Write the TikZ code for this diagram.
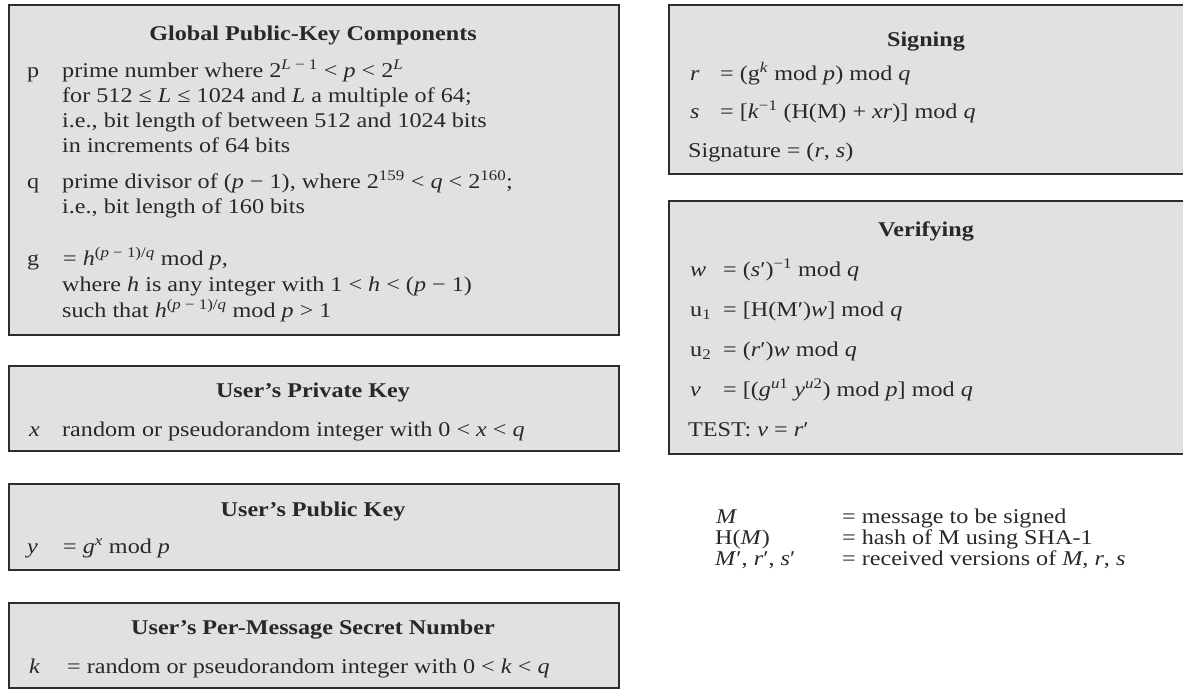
\documentclass[tikz,border=0pt]{standalone}
\usepackage{fontspec}
\setmainfont{Liberation Serif}[FakeStretch=1.15]
\definecolor{boxfill}{RGB}{225,225,228}
\definecolor{boxline}{RGB}{45,45,45}
\definecolor{txtcol}{RGB}{40,40,40}
\newcommand{\iv}[1]{\textit{#1}}
\newcommand{\supx}[1]{\textsuperscript{#1}}
\newcommand{\subx}[1]{\textsubscript{#1}}
\begin{document}
\begin{tikzpicture}[x=1pt,y=-1pt,
  box/.style={draw=boxline, line width=2.4pt, fill=boxfill, inner sep=0pt, anchor=north west},
  txt/.style={anchor=base west, inner sep=0pt, font=\fontsize{21}{25}\selectfont, text=txtcol},
  ttl/.style={anchor=base, inner sep=0pt, font=\fontsize{21}{25}\selectfont\bfseries, text=txtcol}]
\useasboundingbox (0,0) rectangle (1183,689);
\clip (0,0) rectangle (1183,689);
\fill[white] (0,0) rectangle (1183,689);

% boxes
\node[box, minimum width=610pt, minimum height=330pt] (glob) at (8,4) {};
\node[box, minimum width=610pt, minimum height=85pt] (priv) at (8,365) {};
\node[box, minimum width=610pt, minimum height=86pt] (pub) at (8,483) {};
\node[box, minimum width=610pt, minimum height=85pt] (per) at (8,602) {};
\node[box, minimum width=524pt, minimum height=169pt] (sign) at (668,4) {};
\node[box, minimum width=524pt, minimum height=253pt] (ver) at (668,200) {};

% Global
\node[ttl] (globt) at (313,40) {Global Public-Key Components};
\node[txt] (gpl) at (27,77) {p};
\node[txt] (gp1) at (62,77) {prime number where 2\supx{\iv{L} − 1} < \iv{p} < 2\supx{\iv{L}}};
\node[txt] (gp2) at (62,102) {for 512 ≤ \iv{L} ≤ 1024 and \iv{L} a multiple of 64;};
\node[txt] (gp3) at (62,127) {i.e., bit length of between 512 and 1024 bits};
\node[txt] (gp4) at (62,152) {in increments of 64 bits};
\node[txt] (gql) at (27,188) {q};
\node[txt] (gq1) at (62,188) {prime divisor of (\iv{p} − 1), where 2\supx{159} < \iv{q} < 2\supx{160};};
\node[txt] (gq2) at (62,213) {i.e., bit length of 160 bits};
\node[txt] (ggl) at (27,265) {g};
\node[txt] (gg1) at (63,265) {= \iv{h}\supx{(\iv{p} − 1)/\iv{q}} mod \iv{p},};
\node[txt] (gg2) at (62,291) {where \iv{h} is any integer with 1 < \iv{h} < (\iv{p} − 1)};
\node[txt] (gg3) at (62,317) {such that \iv{h}\supx{(\iv{p} − 1)/\iv{q}} mod \iv{p} > 1};

% Private
\node[ttl] (privt) at (313,397) {User’s Private Key};
\node[txt] (privl) at (29,436) {\iv{x}};
\node[txt] (priv1) at (62,436) {random or pseudorandom integer with 0 < \iv{x} < \iv{q}};

% Public
\node[ttl] (pubt) at (313,516) {User’s Public Key};
\node[txt] (publ) at (27,553) {\iv{y}};
\node[txt] (pub1) at (63,553) {= \iv{g}\supx{\iv{x}} mod \iv{p}};

% Per-message
\node[ttl] (pert) at (313,634) {User's Per-Message Secret Number};
\node[txt] (perl) at (29,673) {\iv{k}};
\node[txt] (per1) at (67,673) {= random or pseudorandom integer with 0 < \iv{k} < \iv{q}};

% Signing
\node[ttl] (signt) at (926,46) {Signing};
\node[txt] (sr) at (690,80) {\iv{r}};
\node[txt] (sr1) at (720,80) {= (g\supx{\iv{k}} mod \iv{p}) mod \iv{q}};
\node[txt] (ss) at (690,118) {\iv{s}};
\node[txt] (ss1) at (720,118) {= [\iv{k}\supx{−1} (H(M) + \iv{xr})] mod \iv{q}};
\node[txt] (ssig) at (688,157) {Signature = (\iv{r}, \iv{s})};

% Verifying
\node[ttl] (vert) at (926,236) {Verifying};
\node[txt] (vw) at (690,276) {\iv{w}};
\node[txt] (vw1) at (723,276) {= (\iv{s}′)\supx{−1} mod \iv{q}};
\node[txt] (vu1) at (690,316) {u\subx{1}};
\node[txt] (vu11) at (723,316) {= [H(M′)\iv{w}] mod \iv{q}};
\node[txt] (vu2) at (690,356) {u\subx{2}};
\node[txt] (vu21) at (723,356) {= (\iv{r}′)\iv{w} mod \iv{q}};
\node[txt] (vv) at (690,396) {\iv{v}};
\node[txt] (vv1) at (723,396) {= [(\iv{g}\supx{\iv{u}1} \iv{y}\supx{\iv{u}2}) mod \iv{p}] mod \iv{q}};
\node[txt] (vt) at (688,436) {TEST: \iv{v} = \iv{r}′};

% Legend
\node[txt] (lm) at (716,523) {\iv{M}};
\node[txt] (lm1) at (842,523) {= message to be signed};
\node[txt] (lh) at (715,544) {H(\iv{M})};
\node[txt] (lh1) at (842,544) {= hash of M using SHA-1};
\node[txt] (lr) at (715,565) {\iv{M}′, \iv{r}′, \iv{s}′};
\node[txt] (lr1) at (842,565) {= received versions of \iv{M}, \iv{r}, \iv{s}};
\end{tikzpicture}
\end{document}
